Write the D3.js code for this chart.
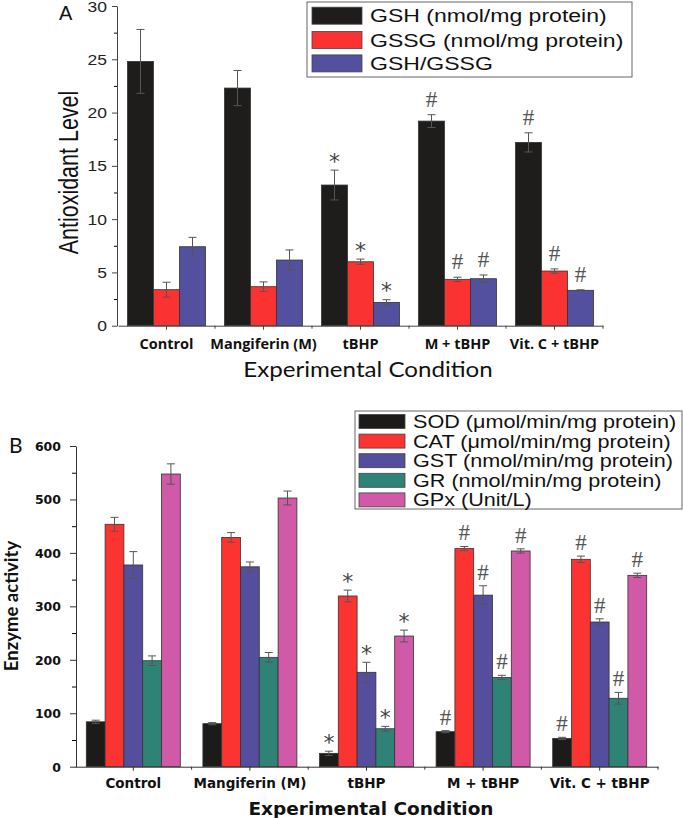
<!DOCTYPE html>
<html><head><meta charset="utf-8">
<script src="https://cdn.jsdelivr.net/npm/d3@7"></script>
<style>html,body{margin:0;padding:0;background:#fff;} svg{display:block}</style>
</head><body>
<svg id="chart" width="683" height="818"></svg>
<script>
// ---------- DATA ----------
const categories = ["Control", "Mangiferin (M)", "tBHP", "M + tBHP", "Vit. C + tBHP"];

// Panel A
const seriesA = ["GSH (nmol/mg protein)", "GSSG (nmol/mg protein)", "GSH/GSSG"];
const gshValues   = [24.8, 22.3, 13.2, 19.2, 17.2];
const gshErrors   = [3.0, 1.65, 1.4, 0.6, 0.9];
const gssgValues  = [3.38, 3.66, 6.0, 4.35, 5.13];
const gssgErrors  = [0.7, 0.45, 0.25, 0.2, 0.2];
const ratioValues = [7.41, 6.16, 2.19, 4.41, 3.32];
const ratioErrors = [0.88, 0.95, 0.25, 0.35, 0.05];
const marksA = ["", "", "*", "#", "#"];
const yTicksA = [0, 5, 10, 15, 20, 25, 30];
const yMinorA = [2.5, 7.5, 12.5, 17.5, 22.5, 27.5];

// Panel B
const seriesB = ["SOD (μmol/min/mg protein)", "CAT (μmol/min/mg protein)", "GST (nmol/min/mg protein)", "GR (nmol/min/mg protein)", "GPx (Unit/L)"];
const sodValues = [84, 80.5, 25, 65.5, 53];
const sodErrors = [3, 2, 4, 2, 2];
const catValues = [453.5, 429, 319.4, 408, 388];
const catErrors = [13, 9, 11, 4, 6];
const gstValues = [377.4, 374, 176.6, 321, 270.7];
const gstErrors = [25, 9, 18.7, 17.5, 6];
const grValues  = [198.3, 204.6, 71, 167, 128];
const grErrors  = [9, 9, 4.5, 4, 11];
const gpxValues = [547.6, 502.7, 244.5, 403.6, 358];
const gpxErrors = [19, 13, 11, 4, 4];
const marksB = ["", "", "*", "#", "#"];
const yTicksB = [0, 100, 200, 300, 400, 500, 600];
const yMinorB = [50, 150, 250, 350, 450, 550];

const colorsA = ["#1f1d1b", "#fb3232", "#5450a0"];
const colorsB = ["#1c1b19", "#fc3431", "#544e9c", "#2f8376", "#d059a8"];

// ---------- HELPERS ----------
const svg = d3.select("#chart");

function buildRows(series, vals, errs, marks) {
  const rows = [];
  categories.forEach((c, i) => {
    series.forEach((s, j) => {
      rows.push({cat: c, series: s, si: j, value: vals[j][i], err: errs[j][i], mark: marks[i]});
    });
  });
  return rows;
}

function stretchText(parent, x, y, str, o) {
  const g = parent.append("g")
    .attr("transform", `translate(${x},${y}) scale(${o.sx || 1},1)` + (o.rotate ? " rotate(-90)" : ""));
  return g.append("text")
    .attr("x", 0).attr("y", 0)
    .attr("text-anchor", o.anchor || "start")
    .style("font-family", o.family)
    .style("font-size", o.size + "px")
    .style("font-weight", o.weight || "normal")
    .attr("fill", o.fill || "#111")
    .text(str);
}

function drawBars(g, rows, x, xSub, y, colors, errColor, capHalf) {
  const bars = g.append("g");
  bars.selectAll("rect").data(rows).join("rect")
    .attr("x", d => x(d.cat) + xSub(d.series))
    .attr("y", d => y(d.value))
    .attr("width", xSub.bandwidth())
    .attr("height", d => y(0) - y(d.value))
    .attr("fill", d => colors[d.si])
    .attr("stroke", "#333")
    .attr("stroke-width", 0.8);
  const eb = g.append("g").attr("stroke", errColor).attr("stroke-width", 1).attr("fill", "none");
  const cx = d => x(d.cat) + xSub(d.series) + xSub.bandwidth() / 2;
  eb.selectAll("line.v").data(rows).join("line").attr("class", "v")
    .attr("x1", cx).attr("x2", cx)
    .attr("y1", d => y(d.value - d.err)).attr("y2", d => y(d.value + d.err));
  eb.selectAll("line.t").data(rows).join("line").attr("class", "t")
    .attr("x1", d => cx(d) - capHalf).attr("x2", d => cx(d) + capHalf)
    .attr("y1", d => y(d.value + d.err)).attr("y2", d => y(d.value + d.err));
  eb.selectAll("line.b").data(rows).join("line").attr("class", "b")
    .attr("x1", d => cx(d) - capHalf).attr("x2", d => cx(d) + capHalf)
    .attr("y1", d => y(d.value - d.err)).attr("y2", d => y(d.value - d.err));
  return cx;
}

function drawMarks(g, rows, cx, y, starLift, hashLift) {
  g.append("g").selectAll("text").data(rows.filter(d => d.mark)).join("text")
    .attr("x", d => cx(d))
    .attr("y", d => y(d.value + d.err) - (d.mark === "*" ? starLift : hashLift))
    .attr("text-anchor", "middle")
    .style("font-family", d => d.mark === "*" ? "DejaVu Sans" : "Liberation Serif")
    .style("font-size", d => d.mark === "*" ? "22px" : "23px")
    .attr("fill", d => d.mark === "*" ? "#444" : "#555")
    .text(d => d.mark);
}

// ---------- PANEL A ----------
(function () {
  const g = svg.append("g");
  const x = d3.scaleBand().domain(categories).range([118, 603]);
  const xSub = d3.scaleBand().domain(seriesA).range([(x.bandwidth() - 78) / 2, (x.bandwidth() + 78) / 2]);
  const y = d3.scaleLinear().domain([0, 30]).range([325.7, 6]);
  const rows = buildRows(seriesA, [gshValues, gssgValues, ratioValues], [gshErrors, gssgErrors, ratioErrors], marksA);

  const cx = drawBars(g, rows, x, xSub, y, colorsA, "#555", 4);
  drawMarks(g, rows, cx, y, 1.5, 8);

  // left axis
  const ax = g.append("g").attr("transform", "translate(117,0)")
    .call(d3.axisLeft(y).tickValues(yTicksA).tickSize(5).tickSizeOuter(0));
  ax.selectAll("text")
    .attr("x", 0).attr("dy", "0.36em")
    .attr("transform", "translate(-10,0) scale(1.25,1)")
    .style("font-family", "Liberation Sans").style("font-size", "14px").attr("fill", "#222");
  g.append("g").attr("transform", "translate(117,0)")
    .call(d3.axisLeft(y).tickValues(yMinorA).tickSize(3).tickFormat(""))
    .call(s => s.select(".domain").remove());
  // bottom axis
  const bx = g.append("g").attr("transform", "translate(0,325.7)")
    .call(d3.axisBottom(x).tickSize(4).tickSizeOuter(0));
  bx.selectAll("text").attr("y", 23).attr("dy", 0)
    .style("font-family", "Open Sans").style("font-weight", "bold").style("font-size", "14.5px").attr("fill", "#111");
  bx.append("g").selectAll("line").data(categories.slice(1).concat(["__end"])).join("line")
    .attr("x1", d => d === "__end" ? x.range()[1] : x(d)).attr("x2", d => d === "__end" ? x.range()[1] : x(d))
    .attr("y1", 0).attr("y2", 3).attr("stroke", "currentColor");
  [ax, bx].forEach(a => a.selectAll("path,line").attr("stroke", "#444"));

  // titles
  stretchText(g, 78, 172.5, "Antioxidant Level", {family: "Liberation Sans", size: 21.5, sx: 1.3, rotate: true, anchor: "middle"});
  stretchText(g, 368, 377, "Experimental Condition", {family: "Lato", size: 21, sx: 1.15, anchor: "middle", fill: "#111"});
  stretchText(g, 59, 20, "A", {family: "Liberation Sans", size: 20});

  // legend
  const lg = g.append("g");
  lg.append("rect").attr("x", 307).attr("y", 2).attr("width", 325).attr("height", 75)
    .attr("fill", "#fff").attr("stroke", "#666").attr("stroke-width", 1);
  const rowsY = [15.7, 40, 63.4];
  seriesA.forEach((s, i) => {
    lg.append("rect").attr("x", 312).attr("y", rowsY[i] - 8.5).attr("width", 50).attr("height", 17)
      .attr("fill", colorsA[i]).attr("stroke", "#444").attr("stroke-width", 0.8);
    stretchText(lg, 370, rowsY[i] + 6.5, s, {family: "Liberation Sans", size: 18, sx: 1.28});
  });
})();

// ---------- PANEL B ----------
(function () {
  const g = svg.append("g");
  const x = d3.scaleBand().domain(categories).range([75, 658]);
  const xSub = d3.scaleBand().domain(seriesB).range([(x.bandwidth() - 94) / 2, (x.bandwidth() + 94) / 2]);
  const y = d3.scaleLinear().domain([0, 600]).range([766.7, 446]);
  const rows = buildRows(seriesB, [sodValues, catValues, gstValues, grValues, gpxValues],
    [sodErrors, catErrors, gstErrors, grErrors, gpxErrors], marksB);

  const cx = drawBars(g, rows, x, xSub, y, colorsB, "#555", 4);
  drawMarks(g, rows, cx, y, 1, 6);

  const ax = g.append("g").attr("transform", "translate(76,0)")
    .call(d3.axisLeft(y).tickValues(yTicksB).tickSize(6).tickSizeOuter(0));
  ax.selectAll("text").attr("x", -15).attr("dy", "0.36em")
    .style("font-family", "DejaVu Sans").style("font-weight", "bold").style("font-size", "12.5px").attr("fill", "#111");
  g.append("g").attr("transform", "translate(76,0)")
    .call(d3.axisLeft(y).tickValues(yMinorB).tickSize(4).tickFormat(""))
    .call(s => s.select(".domain").remove());
  const bx = g.append("g").attr("transform", "translate(0,766.7)")
    .call(d3.axisBottom(x).tickSize(4).tickSizeOuter(0));
  bx.selectAll("text").attr("y", 21).attr("dy", 0)
    .style("font-family", "DejaVu Sans").style("font-weight", "bold").style("font-size", "13.5px").attr("fill", "#111");
  bx.append("g").selectAll("line").data(categories.slice(1).concat(["__end"])).join("line")
    .attr("x1", d => d === "__end" ? x.range()[1] : x(d)).attr("x2", d => d === "__end" ? x.range()[1] : x(d))
    .attr("y1", 0).attr("y2", 3).attr("stroke", "currentColor");
  [ax, bx].forEach(a => a.selectAll("path,line").attr("stroke", "#333"));

  stretchText(g, 17.5, 606, "Enzyme activity", {family: "Lato", size: 18.5, weight: "bold", rotate: true, anchor: "middle"});
  stretchText(g, 371, 815, "Experimental Condition", {family: "DejaVu Sans", size: 18.5, weight: "bold", anchor: "middle"});
  stretchText(g, 9, 453, "B", {family: "Lato", size: 21});

  const lg = g.append("g");
  lg.append("rect").attr("x", 355).attr("y", 411).attr("width", 327).attr("height", 98)
    .attr("fill", "#fff").attr("stroke", "#666").attr("stroke-width", 1);
  seriesB.forEach((s, i) => {
    const cy = 421.5 + i * 19.6;
    lg.append("rect").attr("x", 359).attr("y", cy - 7).attr("width", 46).attr("height", 14)
      .attr("fill", colorsB[i]).attr("stroke", "#444").attr("stroke-width", 0.8);
    stretchText(lg, 413, cy + 6.4, s, {family: "Liberation Sans", size: 18, sx: 1.2});
  });
})();
</script>
</body></html>
